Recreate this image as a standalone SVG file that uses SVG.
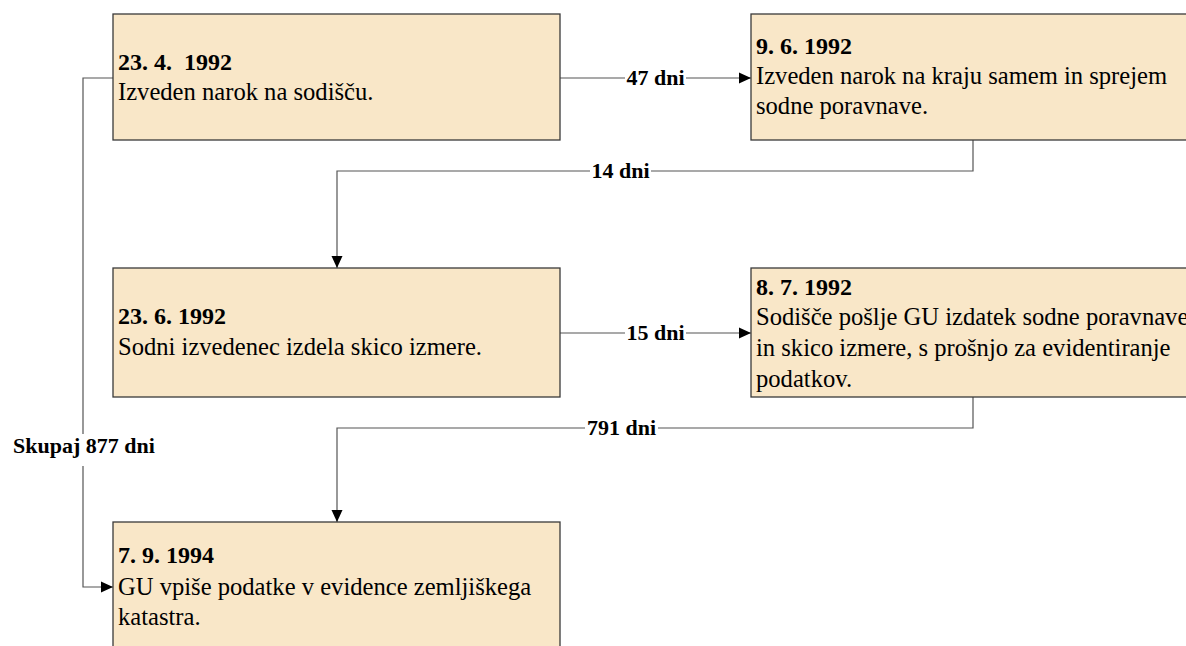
<svg xmlns="http://www.w3.org/2000/svg" width="1186" height="646" viewBox="0 0 1186 646">
<style>
.box{fill:#F9E7C8;stroke:#3a3a3a;stroke-width:1.3}
.t{font-family:"Liberation Serif","Times New Roman",serif;font-size:24.6px;fill:#000}
.h{font-weight:bold;font-size:24px}
.lbl{font-family:"Liberation Serif","Times New Roman",serif;font-size:22px;font-weight:bold;fill:#000;text-anchor:middle}
.ln{fill:none;stroke:#555;stroke-width:1.2}
.bg{fill:#fff}
</style>
<defs>
<marker id="ah" markerUnits="userSpaceOnUse" markerWidth="12" markerHeight="12" viewBox="0 0 12 12" refX="12" refY="6" orient="auto">
<path d="M0,0.5 L12,6 L0,11.5 Z" fill="#000"/>
</marker>
</defs>
<g id="connectors">
<path class="ln" d="M560,78 H751" marker-end="url(#ah)"/>
<path class="ln" d="M973,140 V171 H337 V268" marker-end="url(#ah)"/>
<path class="ln" d="M560,333 H751" marker-end="url(#ah)"/>
<path class="ln" d="M973,397 V428 H337 V522" marker-end="url(#ah)"/>
<path class="ln" d="M113,78 H83 V587 H113" marker-end="url(#ah)"/>
<rect class="bg" x="625" y="64" width="61" height="28"/>
<text class="lbl" x="655.5" y="85">47 dni</text>
<rect class="bg" x="590" y="157" width="61" height="28"/>
<text class="lbl" x="620.5" y="178">14 dni</text>
<rect class="bg" x="625" y="319" width="61" height="28"/>
<text class="lbl" x="655.5" y="340">15 dni</text>
<rect class="bg" x="585" y="414" width="73" height="28"/>
<text class="lbl" x="621.5" y="435">791 dni</text>
<rect class="bg" x="10" y="434" width="148" height="32"/>
<text class="lbl" x="84" y="453">Skupaj 877 dni</text>
</g>
<g id="n1">
<rect class="box" x="113" y="14" width="447" height="126"/>
<text class="t h" x="118" y="70">23. 4.&#160; 1992</text>
<text class="t" x="118" y="100">Izveden narok na sodišču.</text>
</g>
<g id="n2">
<rect class="box" x="751" y="14" width="460" height="126"/>
<text class="t h" x="756" y="54">9. 6. 1992</text>
<text class="t" x="756" y="84">Izveden narok na kraju samem in sprejem</text>
<text class="t" x="756" y="114">sodne poravnave.</text>
</g>
<g id="n3">
<rect class="box" x="113" y="268" width="447" height="129"/>
<text class="t h" x="118" y="324">23. 6. 1992</text>
<text class="t" x="118" y="355">Sodni izvedenec izdela skico izmere.</text>
</g>
<g id="n4">
<rect class="box" x="751" y="268" width="460" height="129"/>
<text class="t h" x="756" y="295">8. 7. 1992</text>
<text class="t" x="756" y="325">Sodišče pošlje GU izdatek sodne poravnave</text>
<text class="t" x="756" y="356">in skico izmere, s prošnjo za evidentiranje</text>
<text class="t" x="756" y="387">podatkov.</text>
</g>
<g id="n5">
<rect class="box" x="113" y="522" width="447" height="140"/>
<text class="t h" x="118" y="563">7. 9. 1994</text>
<text class="t" x="118" y="595">GU vpiše podatke v evidence zemljiškega</text>
<text class="t" x="118" y="625">katastra.</text>
</g>
</svg>
